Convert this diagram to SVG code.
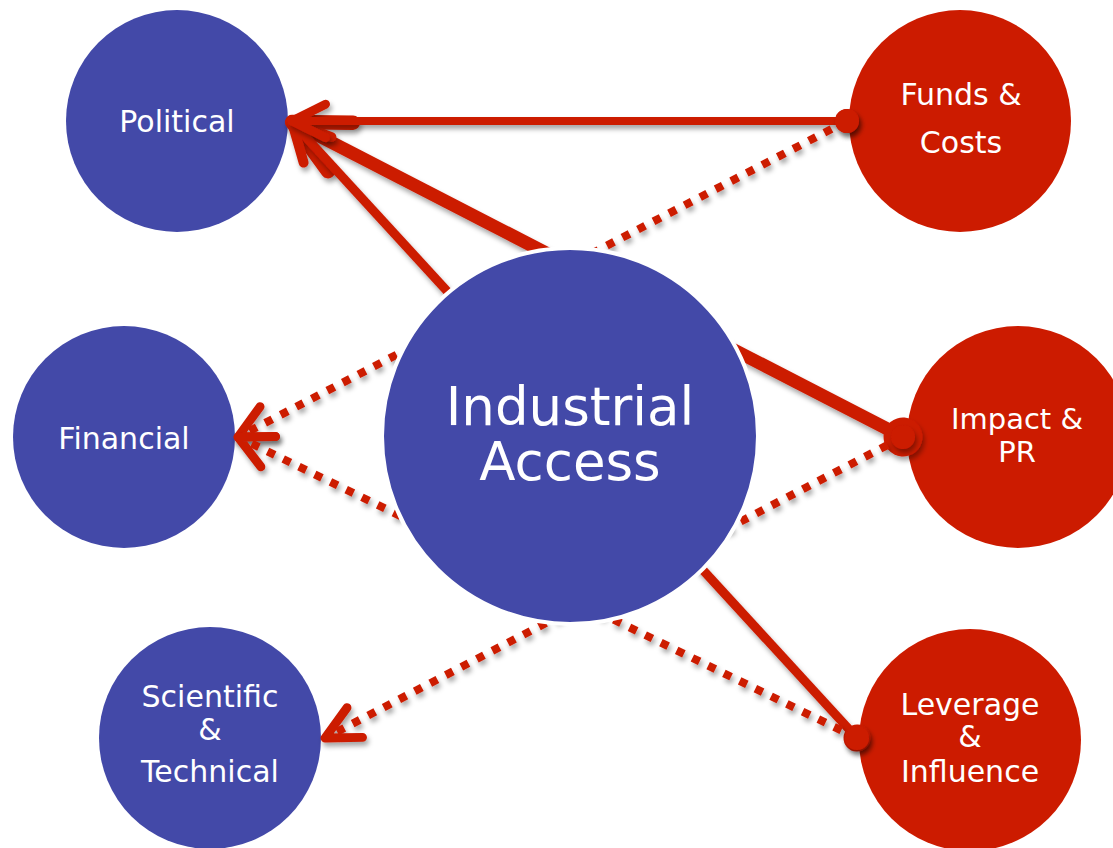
<svg xmlns="http://www.w3.org/2000/svg" width="1113" height="848" viewBox="0 0 1113 848">
<style>
.blue{fill:#4349A8}
.red{fill:#CC1B00}
.lbl{fill:#fff;font-family:"DejaVu Sans","Liberation Sans",sans-serif;font-size:30px;text-anchor:middle}
.sm{font-size:29px}
.big{font-size:53px}
.conn{fill:none;stroke:#CC1B00;stroke-linecap:butt;filter:url(#sh);marker-start:url(#dot);marker-end:url(#arr)}
.dotted{stroke-width:8;stroke-dasharray:8 9.5}
</style>
<defs>
<filter id="sh" filterUnits="userSpaceOnUse" x="0" y="0" width="1113" height="848">
<feDropShadow dx="2" dy="4" stdDeviation="2.5" flood-color="#000" flood-opacity="0.35"/>
</filter>
<marker id="arr" markerUnits="strokeWidth" markerWidth="10" markerHeight="10" refX="0" refY="0" orient="auto" overflow="visible">
<path d="M-4.2,-2.1 L0,0 L-4.2,2.1" fill="none" stroke="#CC1B00" stroke-width="1.1" stroke-linecap="round" stroke-linejoin="round"/>
</marker>
<marker id="dot" markerUnits="strokeWidth" markerWidth="4" markerHeight="4" refX="0" refY="0" orient="auto" overflow="visible">
<circle cx="0" cy="0" r="1.5" fill="#CC1B00"/>
</marker>
</defs>
<rect width="1113" height="848" fill="#fff"/>
<g id="political"><circle class="blue" cx="177" cy="121" r="111"/><text class="lbl" x="177" y="132">Political</text></g>
<g id="financial"><circle class="blue" cx="124" cy="437" r="111"/><text class="lbl" x="124" y="449">Financial</text></g>
<g id="scientific"><circle class="blue" cx="210" cy="738" r="111"/><text class="lbl" x="210" y="707">Scientific</text><text class="lbl" x="210" y="740">&amp;</text><text class="lbl" x="210" y="782">Technical</text></g>
<g id="funds"><circle class="red" cx="960" cy="121" r="111"/><text class="lbl" x="961" y="105">Funds &amp;</text><text class="lbl" x="961" y="153">Costs</text></g>
<g id="impact"><circle class="red" cx="1018" cy="437" r="111"/><text class="lbl sm" x="1017" y="429">Impact &amp;</text><text class="lbl sm" x="1017" y="462">PR</text></g>
<g id="leverage"><circle class="red" cx="970" cy="740" r="111"/><text class="lbl" x="970" y="715">Leverage</text><text class="lbl" x="970" y="747">&amp;</text><text class="lbl" x="970" y="782">Influence</text></g>
<g id="connectors">
<path class="conn" stroke-width="13" d="M903,437 L292,122"/>
<path class="conn" stroke-width="9" d="M857,738 L292,122"/>
<path class="conn" stroke-width="8" d="M847,121 L292,121"/>
<path class="conn dotted" d="M847,121 L238,437"/>
<path class="conn dotted" d="M857,738 L238,437"/>
<path class="conn dotted" d="M903,437 L325,738"/>
</g>
<g id="industrial"><circle class="blue" cx="570" cy="436" r="188" stroke="#fff" stroke-width="4"/><text class="lbl big" x="570" y="425">Industrial</text><text class="lbl big" x="570" y="480">Access</text></g>
</svg>
